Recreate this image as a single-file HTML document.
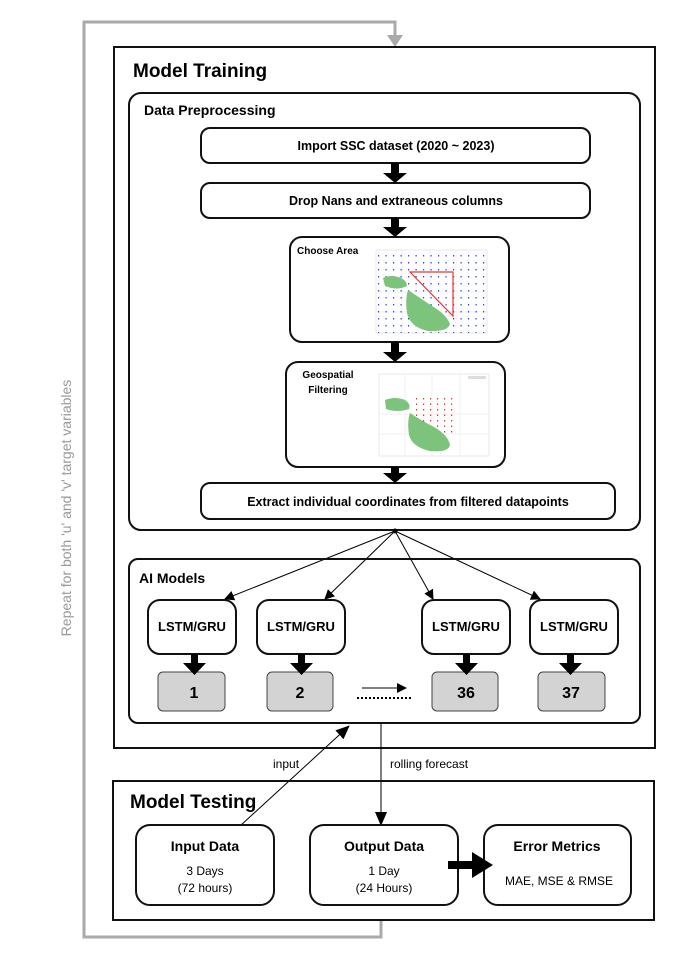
<!DOCTYPE html>
<html><head><meta charset="utf-8"><style>
html,body{margin:0;padding:0;background:#fff;}
svg{display:block;font-family:"Liberation Sans","DejaVu Sans",sans-serif;}
</style></head><body>
<svg width="680" height="964" viewBox="0 0 680 964" xmlns="http://www.w3.org/2000/svg">
<defs>
<marker id="ah" markerWidth="10" markerHeight="10" refX="9" refY="5" orient="auto" markerUnits="userSpaceOnUse"><path d="M0,0 L10,5 L0,10 z" fill="#000"/></marker>
<marker id="ah2" markerWidth="14" markerHeight="12" refX="13" refY="6" orient="auto" markerUnits="userSpaceOnUse"><path d="M0,0 L14,6 L0,12 z" fill="#000"/></marker>
<pattern id="bdots" width="7.5" height="7" patternUnits="userSpaceOnUse"><rect x="3" y="3" width="1.2" height="1.5" fill="#3344ee"/></pattern>
<pattern id="rdots" width="7" height="5.5" patternUnits="userSpaceOnUse"><rect x="3" y="2" width="1.2" height="1.5" fill="#e33"/></pattern>
</defs>

<!-- gray loop -->
<path d="M381,920 V937 H84 V22 H395 V38" fill="none" stroke="#aaa" stroke-width="3"/>
<path d="M387,35 L403,35 L395,47 z" fill="#aaa"/>
<text transform="translate(71,508) rotate(-90)" text-anchor="middle" font-size="14" fill="#999">Repeat for both 'u' and 'v' target variables</text>

<!-- Model Training -->
<rect x="114" y="47" width="541" height="701" fill="none" stroke="#111" stroke-width="2"/>
<text x="133" y="77" font-size="19" font-weight="bold">Model Training</text>

<rect x="129" y="93" width="511" height="437" rx="12" fill="none" stroke="#111" stroke-width="2"/>
<text x="144" y="115" font-size="14" font-weight="bold">Data Preprocessing</text>

<g stroke="#111" stroke-width="2" fill="#fff">
<rect x="201" y="128" width="389" height="35" rx="9"/>
<rect x="201" y="183" width="389" height="35" rx="9"/>
<rect x="290" y="237" width="219" height="105" rx="12"/>
<rect x="286" y="362" width="219" height="105" rx="12"/>
<rect x="201" y="483" width="414" height="36" rx="9"/>
</g>
<g font-size="12.5" font-weight="bold" text-anchor="middle">
<text x="396" y="150">Import SSC dataset (2020 ~ 2023)</text>
<text x="396" y="205">Drop Nans and extraneous columns</text>
<text x="408" y="506">Extract individual coordinates from filtered datapoints</text>
</g>
<text x="297" y="254" font-size="10" font-weight="bold">Choose Area</text>
<text x="328" y="378" font-size="10" font-weight="bold" text-anchor="middle">Geospatial</text>
<text x="328" y="393" font-size="10" font-weight="bold" text-anchor="middle">Filtering</text>

<!-- thick arrows -->
<g fill="#000">
<path d="M391,163 h8 v10 h8 l-12,10 l-12,-10 h8 z"/>
<path d="M391,218 h8 v9 h8 l-12,10 l-12,-10 h8 z"/>
<path d="M391,342 h8 v10 h8 l-12,10 l-12,-10 h8 z"/>
<path d="M391,467 h8 v6 h8 l-12,10 l-12,-10 h8 z"/>
</g>

<!-- map1 -->
<g>
<rect x="376" y="250" width="111" height="83" fill="#fff" stroke="#ddd" stroke-width="0.6"/>
<g stroke="#e6e6e6" stroke-width="0.6"><line x1="376" y1="292" x2="487" y2="292"/><line x1="376" y1="312" x2="487" y2="312"/><line x1="402" y1="250" x2="402" y2="333"/><line x1="430" y1="250" x2="430" y2="333"/><line x1="456" y1="250" x2="456" y2="333"/></g>
<rect x="376" y="250" width="111" height="83" fill="url(#bdots)"/>
<path d="M383,278 q8,-4 18,0 q6,3 6,8 q-10,5 -22,0 z" fill="#7cc47c"/>
<path d="M408,290 q12,8 24,16 q14,8 18,18 q-2,8 -22,7 q-18,-4 -21,-18 q-2,-14 1,-23 z" fill="#7cc47c"/>
<path d="M410,272 h43 v44 z" fill="none" stroke="#e33" stroke-width="1.2"/>
</g>

<!-- map2 -->
<g>
<rect x="379" y="374" width="110" height="82" fill="#fff" stroke="#ddd" stroke-width="0.6"/>
<g stroke="#e6e6e6" stroke-width="0.6"><line x1="379" y1="414" x2="489" y2="414"/><line x1="379" y1="434" x2="489" y2="434"/><line x1="405" y1="374" x2="405" y2="456"/><line x1="432" y1="374" x2="432" y2="456"/><line x1="460" y1="374" x2="460" y2="456"/></g>
<rect x="413" y="396" width="40" height="38" fill="url(#rdots)"/>
<path d="M385,400 q10,-4 20,0 q6,4 4,9 q-12,4 -23,0 z" fill="#7cc47c"/>
<path d="M410,413 q12,8 24,14 q14,8 16,18 q-2,8 -20,6 q-18,-4 -21,-16 q-2,-14 1,-22 z" fill="#7cc47c"/>
<rect x="468" y="376" width="18" height="3" fill="#ddd"/>
</g>

<!-- fan arrows -->
<circle cx="395" cy="531" r="2.5" fill="#000"/>
<g stroke="#000" stroke-width="1" fill="none" marker-end="url(#ah)">
<line x1="395" y1="531" x2="225" y2="599"/>
<line x1="395" y1="531" x2="325" y2="599"/>
<line x1="395" y1="531" x2="433" y2="599"/>
<line x1="395" y1="531" x2="540" y2="599"/>
</g>

<!-- AI Models -->
<rect x="129" y="559" width="511" height="164" rx="9" fill="none" stroke="#111" stroke-width="2"/>
<text x="139" y="583" font-size="14" font-weight="bold">AI Models</text>
<g stroke="#111" stroke-width="2" fill="#fff">
<rect x="148" y="600" width="88" height="54" rx="12"/>
<rect x="257" y="600" width="88" height="54" rx="12"/>
<rect x="422" y="600" width="88" height="54" rx="12"/>
<rect x="530" y="600" width="88" height="54" rx="12"/>
</g>
<g font-size="13" font-weight="bold" text-anchor="middle">
<text x="192" y="631">LSTM/GRU</text><text x="301" y="631">LSTM/GRU</text><text x="466" y="631">LSTM/GRU</text><text x="574" y="631">LSTM/GRU</text>
</g>
<g fill="#d3d3d3" stroke="#444" stroke-width="1">
<rect x="158" y="672" width="67" height="39" rx="5"/>
<rect x="267" y="672" width="66" height="39" rx="5"/>
<rect x="432" y="672" width="66" height="39" rx="5"/>
<rect x="538" y="672" width="67" height="39" rx="5"/>
</g>
<g font-size="16" font-weight="bold" text-anchor="middle">
<text x="194" y="698">1</text><text x="300" y="698">2</text><text x="466" y="698">36</text><text x="571" y="698">37</text>
</g>
<g fill="#000">
<path d="M191,654 h7 v9 h8 l-11.5,12 l-11.5,-12 h8 z"/>
<path d="M298,654 h7 v9 h8 l-11.5,12 l-11.5,-12 h8 z"/>
<path d="M463,654 h7 v9 h8 l-11.5,12 l-11.5,-12 h8 z"/>
<path d="M567,654 h7 v9 h8 l-11.5,12 l-11.5,-12 h8 z"/>
</g>
<line x1="357" y1="698" x2="411" y2="698" stroke="#000" stroke-width="2" stroke-dasharray="2,2"/>
<line x1="362" y1="688" x2="406" y2="688" stroke="#000" stroke-width="1" marker-end="url(#ah)"/>

<!-- connectors -->
<line x1="240" y1="826" x2="349" y2="726" stroke="#000" stroke-width="1" marker-end="url(#ah2)"/>
<line x1="381" y1="723" x2="381" y2="825" stroke="#000" stroke-width="1" marker-end="url(#ah2)"/>
<text x="273" y="768" font-size="12">input</text>
<text x="390" y="768" font-size="12">rolling forecast</text>

<!-- Model Testing -->
<rect x="113" y="781" width="541" height="139" fill="none" stroke="#111" stroke-width="2"/>
<text x="130" y="808" font-size="19" font-weight="bold">Model Testing</text>
<g stroke="#111" stroke-width="2" fill="#fff">
<rect x="136" y="825" width="138" height="80" rx="14"/>
<rect x="310" y="825" width="148" height="80" rx="14"/>
<rect x="484" y="825" width="147" height="80" rx="14"/>
</g>
<g text-anchor="middle">
<text x="205" y="851" font-size="14" font-weight="bold">Input Data</text>
<text x="205" y="875" font-size="12">3 Days</text>
<text x="205" y="892" font-size="12">(72 hours)</text>
<text x="384" y="851" font-size="14" font-weight="bold">Output Data</text>
<text x="384" y="875" font-size="12">1 Day</text>
<text x="384" y="892" font-size="12">(24 Hours)</text>
<text x="557" y="851" font-size="14" font-weight="bold">Error Metrics</text>
<text x="559" y="885" font-size="12">MAE, MSE &amp; RMSE</text>
</g>
<path d="M448,861 h24 v-9 l21,13 l-21,13 v-9 h-24 z" fill="#000"/>
</svg>
</body></html>
